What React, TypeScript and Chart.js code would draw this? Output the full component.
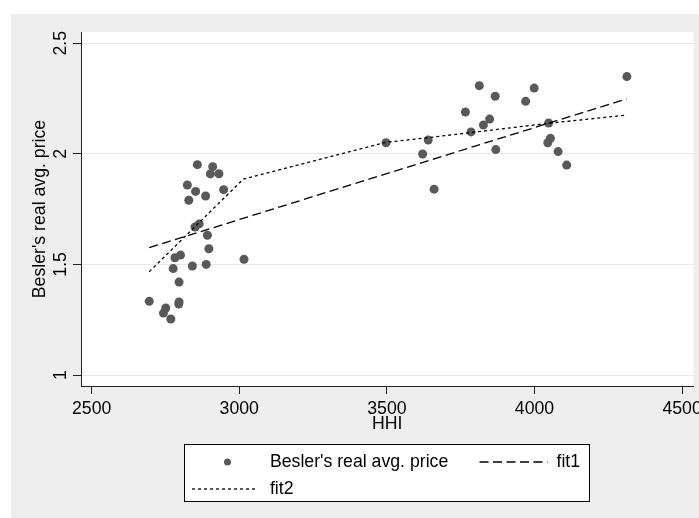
import React, { useEffect, useRef } from 'react';
import { Chart, registerables } from 'chart.js';

Chart.register(...registerables);

// ---- data ----
const hhi = [
  2858, 2910, 2902, 2931, 2824, 2852, 2886, 2829, 2947, 2850, 2864, 2892, 2897,
  2801, 2782, 2776, 2841, 2888, 3016, 2796, 2695, 2796, 2795, 2751, 2743, 2768,
  3497, 3640, 3621, 3660, 3766, 3813, 3867, 3848, 3827, 3785, 3869, 3970, 3999,
  4048, 4054, 4045, 4080, 4109, 4313,
];
const price = [
  1.951, 1.942, 1.909, 1.910, 1.859, 1.830, 1.809, 1.790, 1.838, 1.669, 1.683, 1.632, 1.571,
  1.542, 1.530, 1.481, 1.493, 1.500, 1.523, 1.420, 1.333, 1.330, 1.321, 1.303, 1.280, 1.253,
  2.050, 2.062, 1.999, 1.840, 2.189, 2.308, 2.260, 2.157, 2.130, 2.099, 2.019, 2.237, 2.297,
  2.139, 2.070, 2.050, 2.010, 1.949, 2.349,
];
const fit1Hhi = [2695, 4312];
const fit1Val = [1.576, 2.248];
const fit2Hhi = [2695, 3014, 3497, 3640, 4048, 4312];
const fit2Val = [1.467, 1.886, 2.052, 2.073, 2.138, 2.175];

const xTicks = [2500, 3000, 3500, 4000, 4500];
const yTicks = [1, 1.5, 2, 2.5];
const seriesLabels = ["Besler's real avg. price", 'fit1', 'fit2'];
const xTitle = 'HHI';
const yTitle = "Besler's real avg. price";

const FONT_FAMILY = "'Liberation Sans', Arial, Helvetica, sans-serif";
const FONT_SIZE = 17.7;

const bgPlugin = {
  id: 'stataBg',
  beforeDraw(chart: any) {
    const { ctx, chartArea: ca, width, height } = chart;
    ctx.save();
    ctx.fillStyle = '#ffffff';
    ctx.fillRect(0, 0, width, height);
    ctx.fillStyle = '#eeeeee';
    ctx.fillRect(11, 14, width - 11, height - 14);
    ctx.fillStyle = '#ffffff';
    ctx.fillRect(ca.left, ca.top, ca.right - ca.left, ca.bottom - ca.top);
    ctx.restore();
  },
};

const legendPlugin = {
  id: 'stataLegend',
  afterDraw(chart: any) {
    const { ctx, chartArea: ca } = chart;
    const ds = chart.data.datasets;
    const bw = 405;
    const bh = 57;
    const bx = Math.round(ca.left + 102.5) + 0.5;
    const by = Math.round(ca.bottom + 57.5) + 0.5;
    ctx.save();
    ctx.fillStyle = '#ffffff';
    ctx.fillRect(bx, by, bw, bh);
    ctx.strokeStyle = '#000000';
    ctx.lineWidth = 1;
    ctx.setLineDash([]);
    ctx.strokeRect(bx, by, bw, bh);

    const row1 = by + 17.5;
    const row2 = by + 44.5;
    ctx.font = `${FONT_SIZE}px ${FONT_FAMILY}`;
    ctx.textBaseline = 'middle';
    ctx.textAlign = 'left';

    // item 0 : scatter marker
    ctx.beginPath();
    ctx.fillStyle = ds[0].backgroundColor;
    ctx.arc(bx + 43, row1, 3.5, 0, Math.PI * 2);
    ctx.fill();
    ctx.fillStyle = '#000000';
    ctx.fillText(ds[0].label, bx + 85.4, row1);

    // item 1 : fit1
    ctx.strokeStyle = ds[1].borderColor;
    ctx.lineWidth = ds[1].borderWidth;
    ctx.setLineDash(ds[1].borderDash);
    ctx.beginPath();
    ctx.moveTo(bx + 295, row1);
    ctx.lineTo(bx + 363, row1);
    ctx.stroke();
    ctx.fillText(ds[1].label, bx + 372, row1);

    // item 2 : fit2
    ctx.strokeStyle = ds[2].borderColor;
    ctx.lineWidth = ds[2].borderWidth;
    ctx.setLineDash(ds[2].borderDash);
    ctx.beginPath();
    ctx.moveTo(bx + 7.5, row2);
    ctx.lineTo(bx + 73.5, row2);
    ctx.stroke();
    ctx.fillText(ds[2].label, bx + 85.4, row2);
    ctx.restore();
  },
};

export default function App() {
  const canvasRef = useRef<HTMLCanvasElement | null>(null);

  useEffect(() => {
    if (!canvasRef.current) return;
    const font = { family: FONT_FAMILY, size: FONT_SIZE };
    const chart = new Chart(canvasRef.current, {
      type: 'scatter',
      data: {
        datasets: [
          {
            label: seriesLabels[0],
            data: hhi.map((x, i) => ({ x, y: price[i] })),
            backgroundColor: '#595959',
            borderWidth: 0,
            pointRadius: 4.5,
            pointHoverRadius: 4.5,
            order: 3,
          } as any,
          {
            label: seriesLabels[1],
            data: fit1Hhi.map((x, i) => ({ x, y: fit1Val[i] })),
            showLine: true,
            borderColor: '#000000',
            borderWidth: 1.3,
            borderDash: [9, 4.5],
            pointRadius: 0,
            fill: false,
            order: 2,
          } as any,
          {
            label: seriesLabels[2],
            data: fit2Hhi.map((x, i) => ({ x, y: fit2Val[i] })),
            showLine: true,
            borderColor: '#000000',
            borderWidth: 1.3,
            borderDash: [3, 3],
            pointRadius: 0,
            fill: false,
            order: 1,
          } as any,
        ],
      },
      options: {
        animation: false,
        responsive: false,
        devicePixelRatio: 1,
        layout: { padding: { left: 11, top: 32, right: 5.7, bottom: 83 } },
        plugins: {
          legend: { display: false },
          tooltip: { enabled: false },
        },
        scales: {
          x: {
            type: 'linear',
            min: 2463.8,
            max: 4538.0,
            afterBuildTicks: (s: any) => {
              s.ticks = xTicks.map((v) => ({ value: v }));
            },
            ticks: {
              font,
              color: '#000000',
              padding: 4,
              minRotation: 0,
              maxRotation: 0,
              autoSkip: false,
              callback: (v: any) => String(v),
            },
            grid: {
              display: true,
              drawOnChartArea: false,
              drawTicks: true,
              tickLength: 8,
              tickColor: '#222222',
              tickWidth: 1,
            },
            border: { display: true, color: '#222222', width: 1 },
            title: {
              display: true,
              text: xTitle,
              font,
              color: '#000000',
              padding: { top: 0, bottom: 0 },
            },
            afterFit: (s: any) => {
              s.height = 49;
              s.paddingLeft = 0;
              s.paddingRight = 0;
            },
          },
          y: {
            type: 'linear',
            min: 0.9503,
            max: 2.5506,
            afterBuildTicks: (s: any) => {
              s.ticks = yTicks.map((v) => ({ value: v }));
            },
            ticks: {
              font,
              color: '#000000',
              padding: 0,
              minRotation: 90,
              maxRotation: 90,
              crossAlign: 'center',
              autoSkip: false,
              callback: (v: any) => String(v),
            },
            grid: {
              display: true,
              drawOnChartArea: true,
              color: '#e6e6e6',
              lineWidth: 1,
              drawTicks: true,
              tickLength: 8,
              tickColor: '#222222',
              tickWidth: 1,
            },
            border: { display: true, color: '#222222', width: 1 },
            title: {
              display: true,
              text: yTitle,
              font,
              color: '#000000',
              padding: { top: 18.5, bottom: 0 },
            },
            afterFit: (s: any) => {
              s.width = 70;
              s.paddingTop = 0;
              s.paddingBottom = 0;
            },
          },
        },
      } as any,
      plugins: [bgPlugin, legendPlugin],
    });
    return () => chart.destroy();
  }, []);

  return (
    <div style={{ position: 'fixed', left: 0, top: 0, width: 699, height: 518 }}>
      <canvas ref={canvasRef} width={699} height={518} style={{ display: 'block', width: 699, height: 518 }} />
    </div>
  );
}
